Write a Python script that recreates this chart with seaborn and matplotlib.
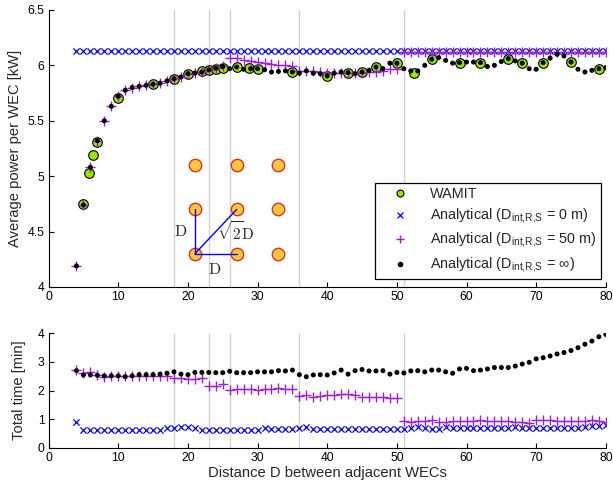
import numpy as np
import pandas as pd
import seaborn as sns
import matplotlib.pyplot as plt
from matplotlib.lines import Line2D

# distance between adjacent WECs [m]
distance = list(range(4, 81))

# average power per WEC [kW]
power_inf = [4.19, 4.74, 5.08, 5.32, 5.50, 5.63, 5.72, 5.775, 5.80, 5.81,
             5.82, 5.83, 5.84, 5.86, 5.88, 5.895, 5.925, 5.93, 5.94, 5.96,
             5.975, 5.99, 5.97, 5.985, 5.965, 5.97, 5.97, 5.96, 5.94, 5.945,
             5.95, 5.94, 5.93, 5.95, 5.93, 5.925, 5.905, 5.93, 5.94, 5.935,
             5.925, 5.94, 5.955, 5.985, 5.97, 6.02, 6.02, 5.97, 5.95, 5.95,
             6.00, 6.055, 6.07, 6.045, 6.02, 6.025, 6.03, 6.03, 6.025, 5.99,
             6.00, 6.035, 6.06, 6.04, 6.02, 5.97, 5.965, 6.025, 6.065, 6.10,
             6.085, 6.03, 5.965, 5.94, 5.955, 5.97, 5.98]
power_50 = [4.19, 4.74, 5.08, 5.32, 5.50, 5.63, 5.72, 5.775, 5.80, 5.81,
            5.82, 5.83, 5.84, 5.86, 5.88, 5.895, 5.925, 5.93, 5.94, 5.96,
            5.975, 5.99, 6.07, 6.065, 6.05, 6.04, 6.03, 6.02, 6.01, 6.003,
            6.00, 5.994, 5.95, 5.95, 5.945, 5.94, 5.935, 5.935, 5.935, 5.93,
            5.935, 5.935, 5.94, 5.94, 5.95, 5.965, 5.97, 6.125, 6.125, 6.125,
            6.125, 6.125, 6.125, 6.125, 6.125, 6.125, 6.125, 6.125, 6.125, 6.125,
            6.125, 6.125, 6.125, 6.125, 6.125, 6.125, 6.125, 6.125, 6.125, 6.125,
            6.125, 6.125, 6.125, 6.125, 6.125, 6.125, 6.125]
power_0 = [6.13, 6.13, 6.13, 6.13, 6.13, 6.13, 6.13, 6.13, 6.13, 6.13,
           6.13, 6.13, 6.13, 6.13, 6.13, 6.13, 6.13, 6.13, 6.13, 6.13,
           6.13, 6.13, 6.13, 6.13, 6.13, 6.13, 6.13, 6.13, 6.13, 6.13,
           6.13, 6.13, 6.13, 6.13, 6.13, 6.13, 6.13, 6.13, 6.13, 6.13,
           6.13, 6.13, 6.13, 6.13, 6.13, 6.13, 6.13, 6.13, 6.13, 6.13,
           6.13, 6.13, 6.13, 6.13, 6.13, 6.13, 6.13, 6.13, 6.13, 6.13,
           6.13, 6.13, 6.13, 6.13, 6.13, 6.13, 6.13, 6.13, 6.13, 6.13,
           6.13, 6.13, 6.13, 6.13, 6.13, 6.13, 6.13]

wamit_distance = [5, 5.8, 6.4, 7, 10, 15, 18, 20, 22, 23, 24, 25, 27, 28.7, 30,
                  35, 40, 43, 45, 47, 50, 52.5, 55, 59, 62, 66, 68, 71, 75, 79]
wamit_power = [4.75, 5.03, 5.19, 5.31, 5.71, 5.83, 5.88, 5.92, 5.95, 5.955, 5.97,
               5.98, 5.985, 5.975, 5.97, 5.94, 5.905, 5.935, 5.94, 5.985, 6.02,
               5.935, 6.055, 6.025, 6.025, 6.06, 6.02, 6.025, 6.03, 5.97]

# total computation time [min]
time_inf = [2.69, 2.54, 2.54, 2.53, 2.51, 2.51, 2.51, 2.48, 2.51, 2.55,
            2.55, 2.55, 2.57, 2.60, 2.65, 2.57, 2.55, 2.63, 2.63, 2.63,
            2.62, 2.62, 2.67, 2.62, 2.62, 2.62, 2.65, 2.65, 2.65, 2.69,
            2.68, 2.71, 2.55, 2.48, 2.54, 2.55, 2.54, 2.61, 2.71, 2.57,
            2.69, 2.73, 2.68, 2.68, 2.69, 2.57, 2.63, 2.61, 2.68, 2.69,
            2.65, 2.71, 2.71, 2.65, 2.60, 2.75, 2.77, 2.69, 2.71, 2.75,
            2.80, 2.80, 2.80, 2.85, 2.92, 2.98, 3.10, 3.14, 3.20, 3.27,
            3.32, 3.39, 3.49, 3.61, 3.72, 3.87, 3.95]
time_50 = [2.71, 2.61, 2.63, 2.54, 2.48, 2.51, 2.51, 2.51, 2.51, 2.51,
           2.51, 2.51, 2.51, 2.51, 2.43, 2.43, 2.41, 2.41, 2.43, 2.16,
           2.16, 2.22, 2.03, 2.05, 2.05, 2.05, 2.02, 2.04, 2.06, 2.10,
           2.05, 2.05, 1.81, 1.84, 1.77, 1.82, 1.84, 1.86, 1.87, 1.87,
           1.85, 1.79, 1.79, 1.79, 1.79, 1.75, 1.75, 0.95, 0.92, 0.95,
           0.95, 0.98, 0.92, 0.92, 0.95, 0.95, 0.95, 0.95, 0.97, 0.95,
           0.95, 0.95, 0.95, 0.92, 0.92, 0.87, 0.98, 0.98, 0.97, 0.95,
           0.95, 0.95, 0.95, 0.95, 0.97, 0.95, 0.91]
time_0 = [0.89, 0.64, 0.64, 0.64, 0.64, 0.64, 0.64, 0.64, 0.64, 0.64,
          0.64, 0.64, 0.64, 0.69, 0.69, 0.74, 0.72, 0.68, 0.64, 0.64,
          0.64, 0.64, 0.64, 0.64, 0.64, 0.64, 0.64, 0.70, 0.67, 0.67,
          0.67, 0.67, 0.68, 0.72, 0.65, 0.65, 0.65, 0.65, 0.65, 0.65,
          0.65, 0.65, 0.65, 0.65, 0.65, 0.65, 0.65, 0.65, 0.68, 0.74,
          0.68, 0.66, 0.66, 0.74, 0.71, 0.68, 0.68, 0.68, 0.68, 0.68,
          0.68, 0.68, 0.68, 0.74, 0.68, 0.68, 0.68, 0.68, 0.68, 0.68,
          0.68, 0.68, 0.68, 0.74, 0.77, 0.77, 0.80]

# distances where the interaction set changes (grey lines)
switch_distance = [18, 23, 26, 36, 51]

# 3x3 array sketch
sketch_x = [21, 27, 33]
sketch_y = [4.3, 4.7, 5.1]

GREEN = '#96E600'
BLUE = '#0000FF'
PURPLE = '#A01ED2'
GREY = '#D2D2D2'

sns.set_theme(style='ticks')
plt.rcParams['font.family'] = ['Liberation Sans', 'DejaVu Sans']
plt.rcParams['mathtext.fontset'] = 'cm'
plt.rcParams['axes.linewidth'] = 0.8
plt.rcParams['axes.edgecolor'] = 'black'

df = pd.DataFrame({'d': distance, 'p_inf': power_inf, 'p_50': power_50, 'p_0': power_0,
                   't_inf': time_inf, 't_50': time_50, 't_0': time_0})
wamit = pd.DataFrame({'d': wamit_distance, 'p': wamit_power})

fig = plt.figure(figsize=(6.13, 4.86), dpi=100)
ax1 = fig.add_axes([0.0793, 0.4095, 0.909, 0.570])
ax2 = fig.add_axes([0.0793, 0.0782, 0.909, 0.2366])


def draw_series(ax, inf_col, c50_col, c0_col):
    for x in switch_distance:
        ax.axvline(x, color=GREY, lw=1.0, zorder=0)
    sns.scatterplot(data=df, x='d', y=c0_col, marker='x', s=20, color=BLUE,
                    linewidth=0.9, ax=ax, zorder=3)
    sns.scatterplot(data=df, x='d', y=c50_col, marker='+', s=46, color=PURPLE,
                    linewidth=1.0, ax=ax, zorder=4)
    sns.scatterplot(data=df, x='d', y=inf_col, marker='o', s=13, color='black',
                    edgecolor='none', ax=ax, zorder=5)


# top panel: power
sns.scatterplot(data=wamit, x='d', y='p', marker='o', s=48, color=GREEN,
                edgecolor='black', linewidth=0.8, ax=ax1, zorder=2)
draw_series(ax1, 'p_inf', 'p_50', 'p_0')

# array sketch
gx, gy = np.meshgrid(sketch_x, sketch_y)
sns.scatterplot(x=gx.ravel(), y=gy.ravel(), marker='o', s=80, color='#FFC83C',
                edgecolor='#E0301E', linewidth=1.0, ax=ax1, zorder=2)
ax1.plot([sketch_x[0], sketch_x[0]], [sketch_y[0], sketch_y[1]], color=BLUE, lw=1, zorder=3)
ax1.plot([sketch_x[0], sketch_x[1]], [sketch_y[0], sketch_y[0]], color=BLUE, lw=1, zorder=3)
ax1.plot([sketch_x[0], sketch_x[1]], [sketch_y[0], sketch_y[1]], color=BLUE, lw=1, zorder=3)
ax1.text(18.9, 4.5, r'$\mathrm{D}$', fontsize=11.5, ha='center', va='center')
ax1.text(23.9, 4.16, r'$\mathrm{D}$', fontsize=11.5, ha='center', va='center')
ax1.text(26.9, 4.5, r'$\sqrt{2}\mathrm{D}$', fontsize=11, ha='center', va='center')

ax1.set_xlim(0, 80)
ax1.set_ylim(4, 6.5)
ax1.set_xticks(range(0, 81, 10))
ax1.set_yticks([4, 4.5, 5, 5.5, 6, 6.5])
ax1.set_yticklabels(['4', '4.5', '5', '5.5', '6', '6.5'])
ax1.set_xlabel('')
ax1.set_ylabel('Average power per WEC [kW]', fontsize=10.6, labelpad=4)

handles = [
    Line2D([], [], ls='', marker='o', ms=5, mfc=GREEN, mec='black', mew=0.8),
    Line2D([], [], ls='', marker='x', ms=4, color=BLUE, mew=0.9),
    Line2D([], [], ls='', marker='+', ms=5.5, color=PURPLE, mew=1.0),
    Line2D([], [], ls='', marker='o', ms=3, color='black'),
]
sub = r'$_{\mathregular{int{,}R{,}S}}$'
labels = [
    'WAMIT',
    'Analytical (D' + sub + ' = 0 m)',
    'Analytical (D' + sub + ' = 50 m)',
    'Analytical (D' + sub + ' = \u221e)',
]
leg = ax1.legend(handles, labels, loc='upper right', bbox_to_anchor=(0.9915, 0.376),
                 fontsize=10.4, fancybox=False, framealpha=1, edgecolor='black',
                 handlelength=2.8, handletextpad=0.7, labelspacing=0.38,
                 borderpad=0.3, borderaxespad=0)
leg.get_frame().set_linewidth(0.9)

# bottom panel: time
draw_series(ax2, 't_inf', 't_50', 't_0')
ax2.set_xlim(0, 80)
ax2.set_ylim(0, 4)
ax2.set_xticks(range(0, 81, 10))
ax2.set_yticks([0, 1, 2, 3, 4])
ax2.set_xlabel('Distance D between adjacent WECs', fontsize=10.6, labelpad=1)
ax2.set_ylabel('Total time [min]', fontsize=10.6, labelpad=8)

for ax in (ax1, ax2):
    sns.despine(ax=ax)
    ax.tick_params(direction='in', length=3.5, width=0.8, labelsize=8.7, pad=3,
                   colors='black')

fig.savefig('out.png', dpi=100)
